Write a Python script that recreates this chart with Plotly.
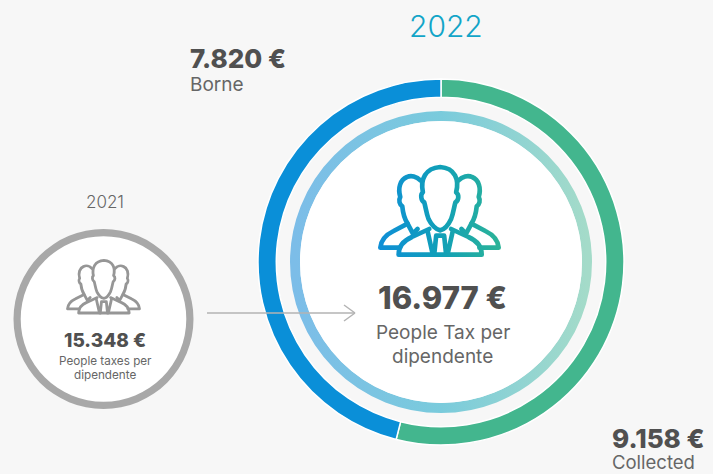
import base64
import plotly.graph_objects as go

W, H = 713, 474
BG = "#f7f7f7"

YEAR_CURRENT = "2022"
YEAR_PREVIOUS = "2021"
split_labels = ["Collected", "Borne"]
split_values = [9158, 7820]
split_colors = ["#43b68e", "#0a8fd8"]
previous_total = [15348]
total_text = "16.977 €"
previous_text = "15.348 €"
borne_text = "7.820 €"
collected_text = "9.158 €"

FONT = "Inter"
DARK = "#505050"
MID = "#666666"


def px_x(x):
    return x / W


def px_y(y):
    return 1 - y / H


def donut_domain(cx, cy, r):
    return dict(x=[px_x(cx - r), px_x(cx + r)], y=[px_y(cy + r), px_y(cy - r)])


ICON_PATHS = """
<path d="M175 178 C168 160 166 140 162 128 C152 122 150 105 158 98 C150 60 165 25 210 22 C255 25 268 60 258 98 C268 105 266 122 256 128 C252 140 250 160 243 178 C235 195 222 210 210 212 C198 210 183 195 175 178 Z"/>
<path d="M85 285 L335 285 C335 262 325 245 295 232 L243 208 M85 285 C85 262 95 245 125 232 L177 208"/>
<path d="M172 214 L188 285 M248 214 L232 285 M198 228 L222 228 L228 285 M198 228 L192 285"/>
<path d="M150 62 C140 50 122 46 110 52 C90 60 82 85 90 112 C84 122 88 135 96 140 C98 160 104 180 112 192 L70 214 C45 226 32 240 30 264 L88 264"/>
<path d="M112 192 L128 222 L142 208"/>
<path d="M266 62 C276 50 294 46 306 52 C326 60 334 85 326 112 C332 122 328 135 320 140 C318 160 312 180 304 192 L346 214 C371 226 384 240 386 264 L328 264"/>
<path d="M304 192 L288 222 L274 208"/>
"""


def icon_uri(stops):
    stop_xml = "".join(f'<stop offset="{o}" stop-color="{c}"/>' for o, c in stops)
    svg = (
        '<svg xmlns="http://www.w3.org/2000/svg" viewBox="20 10 376 285" width="376" height="285">'
        f'<defs><linearGradient id="g" gradientUnits="userSpaceOnUse" x1="30" y1="0" x2="386" y2="0">{stop_xml}</linearGradient></defs>'
        f'<g fill="none" stroke="url(#g)" stroke-width="14" stroke-linejoin="round" stroke-linecap="round">{ICON_PATHS}</g></svg>'
    )
    return "data:image/svg+xml;base64," + base64.b64encode(svg.encode()).decode()


def ring_uri():
    svg = (
        '<svg xmlns="http://www.w3.org/2000/svg" viewBox="0 0 304 304" width="304" height="304">'
        '<defs><linearGradient id="r" x1="0" y1="0" x2="1" y2="0">'
        '<stop offset="0" stop-color="#7cbde8"/><stop offset="0.5" stop-color="#7acbdc"/>'
        '<stop offset="1" stop-color="#a4dbc9"/></linearGradient></defs>'
        '<circle cx="152" cy="152" r="146" fill="none" stroke="url(#r)" stroke-width="10"/></svg>'
    )
    return "data:image/svg+xml;base64," + base64.b64encode(svg.encode()).decode()


def image(uri, x, y, w, h, layer="below"):
    return dict(source=uri, xref="paper", yref="paper", x=px_x(x), y=px_y(y), sizex=w / W, sizey=h / H,
                xanchor="left", yanchor="top", sizing="stretch", layer=layer)


def disc(cx, cy, r, color="#ffffff"):
    return dict(type="circle", xref="paper", yref="paper", x0=px_x(cx - r), x1=px_x(cx + r),
                y0=px_y(cy + r), y1=px_y(cy - r), fillcolor=color, line_width=0, layer="below")


def seg(x0, y0, x1, y1):
    return dict(type="line", xref="paper", yref="paper", x0=px_x(x0), x1=px_x(x1), y0=px_y(y0), y1=px_y(y1),
                line=dict(color="#b3b3b3", width=1.5), layer="above")


def text(s, x, y, size, color=DARK, weight=400, anchor="center"):
    return dict(text=s, xref="paper", yref="paper", x=px_x(x), y=px_y(y), xanchor=anchor, yanchor="middle",
                showarrow=False, font=dict(family=FONT, size=size, color=color, weight=weight))


fig = go.Figure()
fig.add_trace(go.Pie(labels=split_labels, values=split_values, hole=0.9, sort=False, direction="clockwise",
                     rotation=0, marker=dict(colors=split_colors, line=dict(color="#ffffff", width=1.5)),
                     textinfo="none", hoverinfo="label+value", showlegend=False,
                     domain=donut_domain(441, 262, 183)))
fig.add_trace(go.Pie(labels=[YEAR_PREVIOUS], values=previous_total, hole=0.92, sort=False,
                     marker=dict(colors=["#a8a8a8"], line=dict(width=0)),
                     textinfo="none", hoverinfo="label+value", showlegend=False,
                     domain=donut_domain(103.5, 319, 90)))

fig.update_layout(
    width=W, height=H, margin=dict(l=0, r=0, t=0, b=0), paper_bgcolor=BG, plot_bgcolor=BG,
    showlegend=False,
    shapes=[disc(441, 262, 141), disc(103.5, 319, 84),
            seg(207, 313, 355, 313), seg(344, 305, 355, 313), seg(344, 321, 355, 313)],
    images=[image(ring_uri(), 289, 110, 304, 304),
            image(icon_uri([(0, "#0f8fd6"), (0.5, "#109fb8"), (1, "#2bb398")]), 377, 163, 125, 95, "above"),
            image(icon_uri([(0, "#969696"), (1, "#969696")]), 65.5, 258, 76, 57, "above")],
    annotations=[
        text(YEAR_CURRENT, 446, 26, 30, "#12a5c8", 300),
        text(borne_text, 188, 58, 26, DARK, 800, "left"),
        text(split_labels[1], 188, 84, 19, MID, 400, "left"),
        text(YEAR_PREVIOUS, 105, 202, 17, MID, 300),
        text(previous_text, 105, 340, 19, DARK, 800),
        text("People taxes per", 105.5, 361, 11.7, MID),
        text("dipendente", 105, 375, 11.7, MID),
        text(total_text, 442.5, 297, 31, DARK, 800),
        text("People Tax per", 442.5, 332, 19, MID),
        text("dipendente", 443, 356, 19, MID),
        text(collected_text, 610, 438, 26, DARK, 800, "left"),
        text(split_labels[0], 610, 462, 18.5, MID, 400, "left"),
    ],
)
fig.write_html("out.html", config={"displayModeBar": False},
               post_script="document.body.style.margin='0';document.body.style.background='#f7f7f7';")
